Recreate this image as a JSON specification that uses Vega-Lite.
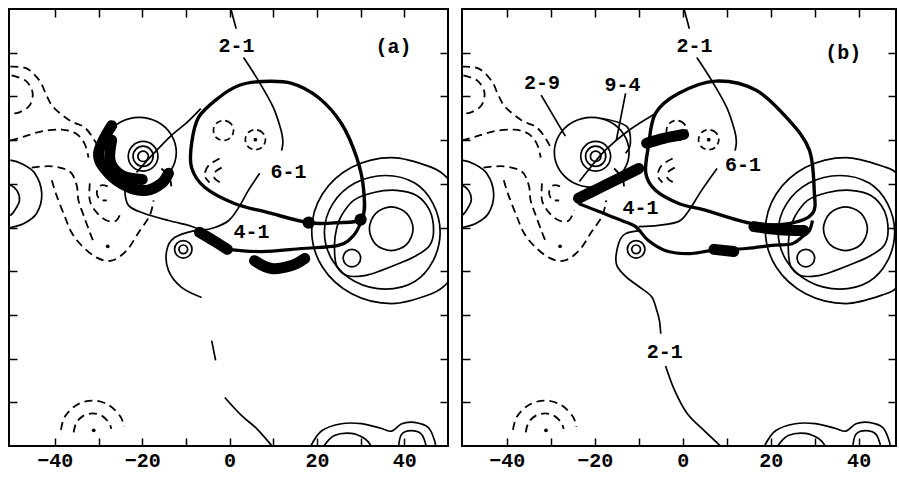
{
"$schema":"https://vega.github.io/schema/vega-lite/v6.json",
"padding":{"left":7,"top":7,"right":0,"bottom":0},
"background":"white",
"config":{"view":{"stroke":"black","strokeWidth":2},"concat":{"spacing":10}},
"datasets":{"d":[
{"p":"ab","k":"line","g":"top21","i":0,"x":0.3,"y":50},{"p":"ab","k":"line","g":"top21","i":1,"x":1.5,"y":45.5},
{"p":"ab","k":"line","g":"lead21","i":0,"x":3.2,"y":38.9},{"p":"ab","k":"line","g":"lead21","i":1,"x":6.6,"y":33.6},{"p":"ab","k":"line","g":"lead21","i":2,"x":10.0,"y":27.5},{"p":"ab","k":"line","g":"lead21","i":3,"x":11.8,"y":22.2},{"p":"ab","k":"line","g":"lead21","i":4,"x":12.2,"y":19.6},{"p":"ab","k":"line","g":"lead21","i":5,"x":11.9,"y":17.6},
{"p":"ab","k":"line","g":"bumpO","i":0,"x":-50.2,"y":15.4},{"p":"ab","k":"line","g":"bumpO","i":1,"x":-47.6,"y":14.6},{"p":"ab","k":"line","g":"bumpO","i":2,"x":-44.6,"y":12.4},{"p":"ab","k":"line","g":"bumpO","i":3,"x":-43.0,"y":7.8},{"p":"ab","k":"line","g":"bumpO","i":4,"x":-44.2,"y":3.2},{"p":"ab","k":"line","g":"bumpO","i":5,"x":-47.1,"y":0.9},{"p":"ab","k":"line","g":"bumpO","i":6,"x":-50.2,"y":0},
{"p":"ab","k":"line","g":"bumpI","i":0,"x":-50.2,"y":9.7},{"p":"ab","k":"line","g":"bumpI","i":1,"x":-48.7,"y":8.5},{"p":"ab","k":"line","g":"bumpI","i":2,"x":-48.1,"y":6.2},{"p":"ab","k":"line","g":"bumpI","i":3,"x":-49.2,"y":3.9},{"p":"ab","k":"line","g":"bumpI","i":4,"x":-50.2,"y":2.7},
{"p":"a","k":"line","g":"R1a","i":0,"x":50,"y":11.15},{"p":"a","k":"line","g":"R1a","i":1,"x":46.25,"y":13.76},{"p":"a","k":"line","g":"R1a","i":2,"x":37.1,"y":16.0},{"p":"a","k":"line","g":"R1a","i":3,"x":27.95,"y":13.76},{"p":"a","k":"line","g":"R1a","i":4,"x":21.25,"y":7.65},{"p":"a","k":"line","g":"R1a","i":5,"x":18.8,"y":-0.7},{"p":"a","k":"line","g":"R1a","i":6,"x":21.25,"y":-9.05},{"p":"a","k":"line","g":"R1a","i":7,"x":27.95,"y":-15.16},{"p":"a","k":"line","g":"R1a","i":8,"x":37.1,"y":-17.4},{"p":"a","k":"line","g":"R1a","i":9,"x":46.25,"y":-15.16},{"p":"a","k":"line","g":"R1a","i":10,"x":50,"y":-12.55},
{"p":"b","k":"line","g":"R1b","i":0,"x":48.5,"y":12.37},{"p":"b","k":"line","g":"R1b","i":1,"x":46.25,"y":13.76},{"p":"b","k":"line","g":"R1b","i":2,"x":37.1,"y":16.0},{"p":"b","k":"line","g":"R1b","i":3,"x":27.95,"y":13.76},{"p":"b","k":"line","g":"R1b","i":4,"x":21.25,"y":7.65},{"p":"b","k":"line","g":"R1b","i":5,"x":18.8,"y":-0.7},{"p":"b","k":"line","g":"R1b","i":6,"x":21.25,"y":-9.05},{"p":"b","k":"line","g":"R1b","i":7,"x":27.95,"y":-15.16},{"p":"b","k":"line","g":"R1b","i":8,"x":37.1,"y":-17.4},{"p":"b","k":"line","g":"R1b","i":9,"x":46.25,"y":-15.16},{"p":"b","k":"line","g":"R1b","i":10,"x":48.5,"y":-13.77},
{"p":"ab","k":"ring","g":"R2","i":0,"x":48.2,"y":-1.1},{"p":"ab","k":"ring","g":"R2","i":1,"x":46.6,"y":5.4},{"p":"ab","k":"ring","g":"R2","i":2,"x":42.4,"y":10.16},{"p":"ab","k":"ring","g":"R2","i":3,"x":35.7,"y":11.9},{"p":"ab","k":"ring","g":"R2","i":4,"x":28.7,"y":10.16},{"p":"ab","k":"ring","g":"R2","i":5,"x":23.6,"y":5.4},{"p":"ab","k":"ring","g":"R2","i":6,"x":21.7,"y":-1.1},{"p":"ab","k":"ring","g":"R2","i":7,"x":23.6,"y":-7.6},{"p":"ab","k":"ring","g":"R2","i":8,"x":28.7,"y":-12.36},{"p":"ab","k":"ring","g":"R2","i":9,"x":35.7,"y":-14.1},{"p":"ab","k":"ring","g":"R2","i":10,"x":42.4,"y":-12.36},{"p":"ab","k":"ring","g":"R2","i":11,"x":46.6,"y":-7.6},
{"p":"ab","k":"ring","g":"P","i":0,"x":25.6,"y":2.7},{"p":"ab","k":"ring","g":"P","i":1,"x":28.4,"y":6.2},{"p":"ab","k":"ring","g":"P","i":2,"x":33.0,"y":8.0},{"p":"ab","k":"ring","g":"P","i":3,"x":38.2,"y":8.5},{"p":"ab","k":"ring","g":"P","i":4,"x":42.8,"y":7.3},{"p":"ab","k":"ring","g":"P","i":5,"x":45.8,"y":3.9},{"p":"ab","k":"ring","g":"P","i":6,"x":46.7,"y":-0.7},{"p":"ab","k":"ring","g":"P","i":7,"x":45.8,"y":-4.1},{"p":"ab","k":"ring","g":"P","i":8,"x":42.8,"y":-6.4},{"p":"ab","k":"ring","g":"P","i":9,"x":38.9,"y":-8.2},{"p":"ab","k":"ring","g":"P","i":10,"x":34.8,"y":-9.8},{"p":"ab","k":"ring","g":"P","i":11,"x":30.9,"y":-11.0},{"p":"ab","k":"ring","g":"P","i":12,"x":26.8,"y":-11.0},{"p":"ab","k":"ring","g":"P","i":13,"x":24.5,"y":-8.7},{"p":"ab","k":"ring","g":"P","i":14,"x":24.0,"y":-4.1},{"p":"ab","k":"ring","g":"P","i":15,"x":24.5,"y":-0.2},
{"p":"ab","k":"ring","g":"C1","i":0,"x":42,"y":-0.3},{"p":"ab","k":"ring","g":"C1","i":1,"x":40.54,"y":3.24},{"p":"ab","k":"ring","g":"C1","i":2,"x":37,"y":4.7},{"p":"ab","k":"ring","g":"C1","i":3,"x":33.46,"y":3.24},{"p":"ab","k":"ring","g":"C1","i":4,"x":32,"y":-0.3},{"p":"ab","k":"ring","g":"C1","i":5,"x":33.46,"y":-3.84},{"p":"ab","k":"ring","g":"C1","i":6,"x":37,"y":-5.3},{"p":"ab","k":"ring","g":"C1","i":7,"x":40.54,"y":-3.84},
{"p":"ab","k":"ring","g":"C2","i":0,"x":30,"y":-7},{"p":"ab","k":"ring","g":"C2","i":1,"x":29.41,"y":-5.59},{"p":"ab","k":"ring","g":"C2","i":2,"x":28,"y":-5},{"p":"ab","k":"ring","g":"C2","i":3,"x":26.59,"y":-5.59},{"p":"ab","k":"ring","g":"C2","i":4,"x":26,"y":-7},{"p":"ab","k":"ring","g":"C2","i":5,"x":26.59,"y":-8.41},{"p":"ab","k":"ring","g":"C2","i":6,"x":28,"y":-9},{"p":"ab","k":"ring","g":"C2","i":7,"x":29.41,"y":-8.41},
{"p":"ab","k":"ring","g":"dc1","i":0,"x":-8.6,"y":-5},{"p":"ab","k":"ring","g":"dc1","i":1,"x":-9.19,"y":-3.59},{"p":"ab","k":"ring","g":"dc1","i":2,"x":-10.6,"y":-3},{"p":"ab","k":"ring","g":"dc1","i":3,"x":-12.01,"y":-3.59},{"p":"ab","k":"ring","g":"dc1","i":4,"x":-12.6,"y":-5},{"p":"ab","k":"ring","g":"dc1","i":5,"x":-12.01,"y":-6.41},{"p":"ab","k":"ring","g":"dc1","i":6,"x":-10.6,"y":-7},{"p":"ab","k":"ring","g":"dc1","i":7,"x":-9.19,"y":-6.41},
{"p":"ab","k":"ring","g":"dc2","i":0,"x":-9.6,"y":-5},{"p":"ab","k":"ring","g":"dc2","i":1,"x":-9.89,"y":-4.29},{"p":"ab","k":"ring","g":"dc2","i":2,"x":-10.6,"y":-4},{"p":"ab","k":"ring","g":"dc2","i":3,"x":-11.31,"y":-4.29},{"p":"ab","k":"ring","g":"dc2","i":4,"x":-11.6,"y":-5},{"p":"ab","k":"ring","g":"dc2","i":5,"x":-11.31,"y":-5.71},{"p":"ab","k":"ring","g":"dc2","i":6,"x":-10.6,"y":-6},{"p":"ab","k":"ring","g":"dc2","i":7,"x":-9.89,"y":-5.71},
{"p":"ab","k":"ring","g":"thin","i":0,"x":-12.2,"y":17.2},{"p":"ab","k":"ring","g":"thin","i":1,"x":-13.34,"y":21.2},{"p":"ab","k":"ring","g":"thin","i":2,"x":-16.45,"y":24.13},{"p":"ab","k":"ring","g":"thin","i":3,"x":-20.7,"y":25.2},{"p":"ab","k":"ring","g":"thin","i":4,"x":-24.95,"y":24.13},{"p":"ab","k":"ring","g":"thin","i":5,"x":-28.06,"y":21.2},{"p":"ab","k":"ring","g":"thin","i":6,"x":-29.2,"y":17.2},{"p":"ab","k":"ring","g":"thin","i":7,"x":-28.06,"y":13.2},{"p":"ab","k":"ring","g":"thin","i":8,"x":-24.95,"y":10.27},{"p":"ab","k":"ring","g":"thin","i":9,"x":-20.7,"y":9.2},{"p":"ab","k":"ring","g":"thin","i":10,"x":-16.45,"y":10.27},{"p":"ab","k":"ring","g":"thin","i":11,"x":-13.34,"y":13.2},
{"p":"ab","k":"ring","g":"cc1","i":0,"x":-18.6,"y":16.3},{"p":"ab","k":"ring","g":"cc1","i":1,"x":-18.95,"y":17.15},{"p":"ab","k":"ring","g":"cc1","i":2,"x":-19.8,"y":17.5},{"p":"ab","k":"ring","g":"cc1","i":3,"x":-20.65,"y":17.15},{"p":"ab","k":"ring","g":"cc1","i":4,"x":-21.0,"y":16.3},{"p":"ab","k":"ring","g":"cc1","i":5,"x":-20.65,"y":15.45},{"p":"ab","k":"ring","g":"cc1","i":6,"x":-19.8,"y":15.1},{"p":"ab","k":"ring","g":"cc1","i":7,"x":-18.95,"y":15.45},
{"p":"ab","k":"ring","g":"cc2","i":0,"x":-17.5,"y":16.3},{"p":"ab","k":"ring","g":"cc2","i":1,"x":-18.17,"y":17.93},{"p":"ab","k":"ring","g":"cc2","i":2,"x":-19.8,"y":18.6},{"p":"ab","k":"ring","g":"cc2","i":3,"x":-21.43,"y":17.93},{"p":"ab","k":"ring","g":"cc2","i":4,"x":-22.1,"y":16.3},{"p":"ab","k":"ring","g":"cc2","i":5,"x":-21.43,"y":14.67},{"p":"ab","k":"ring","g":"cc2","i":6,"x":-19.8,"y":14.0},{"p":"ab","k":"ring","g":"cc2","i":7,"x":-18.17,"y":14.67},
{"p":"ab","k":"ring","g":"cc3","i":0,"x":-16.4,"y":16.3},{"p":"ab","k":"ring","g":"cc3","i":1,"x":-17.4,"y":18.7},{"p":"ab","k":"ring","g":"cc3","i":2,"x":-19.8,"y":19.7},{"p":"ab","k":"ring","g":"cc3","i":3,"x":-22.2,"y":18.7},{"p":"ab","k":"ring","g":"cc3","i":4,"x":-23.2,"y":16.3},{"p":"ab","k":"ring","g":"cc3","i":5,"x":-22.2,"y":13.9},{"p":"ab","k":"ring","g":"cc3","i":6,"x":-19.8,"y":12.9},{"p":"ab","k":"ring","g":"cc3","i":7,"x":-17.4,"y":13.9},
{"p":"ab","k":"line","g":"br1","i":0,"x":18.6,"y":-50},{"p":"ab","k":"line","g":"br1","i":1,"x":21.1,"y":-46.5},{"p":"ab","k":"line","g":"br1","i":2,"x":25.6,"y":-44.9},{"p":"ab","k":"line","g":"br1","i":3,"x":30.2,"y":-44.9},{"p":"ab","k":"line","g":"br1","i":4,"x":34.8,"y":-46.0},{"p":"ab","k":"line","g":"br1","i":5,"x":37.1,"y":-46.6},{"p":"ab","k":"line","g":"br1","i":6,"x":39.4,"y":-44.9},{"p":"ab","k":"line","g":"br1","i":7,"x":42.3,"y":-44.6},{"p":"ab","k":"line","g":"br1","i":8,"x":45.5,"y":-45.8},{"p":"ab","k":"line","g":"br1","i":9,"x":46.9,"y":-48.7},{"p":"ab","k":"line","g":"br1","i":10,"x":47.1,"y":-50},
{"p":"ab","k":"line","g":"br2","i":0,"x":21.6,"y":-50},{"p":"ab","k":"line","g":"br2","i":1,"x":24.0,"y":-47.6},{"p":"ab","k":"line","g":"br2","i":2,"x":27.9,"y":-47.1},{"p":"ab","k":"line","g":"br2","i":3,"x":30.9,"y":-48.3},{"p":"ab","k":"line","g":"br2","i":4,"x":32.4,"y":-50},
{"p":"ab","k":"line","g":"br3","i":0,"x":38.7,"y":-50},{"p":"ab","k":"line","g":"br3","i":1,"x":39.4,"y":-47.3},{"p":"ab","k":"line","g":"br3","i":2,"x":41.6,"y":-46.5},{"p":"ab","k":"line","g":"br3","i":3,"x":43.9,"y":-47.3},{"p":"ab","k":"line","g":"br3","i":4,"x":45.0,"y":-50},
{"p":"ab","k":"neg","g":"D1","i":0,"x":-50.2,"y":36.8},{"p":"ab","k":"neg","g":"D1","i":1,"x":-46.5,"y":36.4},{"p":"ab","k":"neg","g":"D1","i":2,"x":-43.5,"y":33.6},{"p":"ab","k":"neg","g":"D1","i":3,"x":-41.9,"y":30.2},{"p":"ab","k":"neg","g":"D1","i":4,"x":-40.3,"y":27.5},{"p":"ab","k":"neg","g":"D1","i":5,"x":-36.6,"y":24.5},{"p":"ab","k":"neg","g":"D1","i":6,"x":-33.2,"y":22.9},{"p":"ab","k":"neg","g":"D1","i":7,"x":-30.9,"y":19.9},{"p":"ab","k":"neg","g":"D1","i":8,"x":-29.7,"y":17.6},
{"p":"ab","k":"neg","g":"D2","i":0,"x":-49.9,"y":34.8},{"p":"ab","k":"neg","g":"D2","i":1,"x":-46.7,"y":33.6},{"p":"ab","k":"neg","g":"D2","i":2,"x":-45.1,"y":30.9},{"p":"ab","k":"neg","g":"D2","i":3,"x":-45.8,"y":27.9},{"p":"ab","k":"neg","g":"D2","i":4,"x":-48.3,"y":26.3},{"p":"ab","k":"neg","g":"D2","i":5,"x":-50.2,"y":26.1},
{"p":"ab","k":"neg","g":"D3","i":0,"x":-50.2,"y":19.9},{"p":"ab","k":"neg","g":"D3","i":1,"x":-47.1,"y":20.8},{"p":"ab","k":"neg","g":"D3","i":2,"x":-43.0,"y":22.0},{"p":"ab","k":"neg","g":"D3","i":3,"x":-38.4,"y":22.4},{"p":"ab","k":"neg","g":"D3","i":4,"x":-35.2,"y":21.5},{"p":"ab","k":"neg","g":"D3","i":5,"x":-33.2,"y":19.2},{"p":"ab","k":"neg","g":"D3","i":6,"x":-32.3,"y":16.0},
{"p":"ab","k":"neg","g":"D4","i":0,"x":-45.3,"y":13.7},{"p":"ab","k":"neg","g":"D4","i":1,"x":-40.7,"y":14.0},{"p":"ab","k":"neg","g":"D4","i":2,"x":-36.6,"y":12.8},{"p":"ab","k":"neg","g":"D4","i":3,"x":-35.0,"y":9.6},{"p":"ab","k":"neg","g":"D4","i":4,"x":-34.6,"y":6.2},{"p":"ab","k":"neg","g":"D4","i":5,"x":-33.4,"y":2.7},{"p":"ab","k":"neg","g":"D4","i":6,"x":-32.0,"y":-1.1},{"p":"ab","k":"neg","g":"D4","i":7,"x":-31.1,"y":-3.4},
{"p":"ab","k":"neg","g":"D5","i":0,"x":-40.7,"y":10.8},{"p":"ab","k":"neg","g":"D5","i":1,"x":-39.6,"y":7.3},{"p":"ab","k":"neg","g":"D5","i":2,"x":-37.8,"y":2.7},{"p":"ab","k":"neg","g":"D5","i":3,"x":-36.2,"y":-1.1},{"p":"ab","k":"neg","g":"D5","i":4,"x":-33.9,"y":-4.1},{"p":"ab","k":"neg","g":"D5","i":5,"x":-30.4,"y":-6.9},{"p":"ab","k":"neg","g":"D5","i":6,"x":-27.0,"y":-7.6},{"p":"ab","k":"neg","g":"D5","i":7,"x":-23.6,"y":-5.3},{"p":"ab","k":"neg","g":"D5","i":8,"x":-20.8,"y":-1.1},{"p":"ab","k":"neg","g":"D5","i":9,"x":-18.3,"y":2.7},{"p":"ab","k":"neg","g":"D5","i":10,"x":-17.4,"y":6.2},
{"p":"ab","k":"neg","g":"D6","i":0,"x":-32.0,"y":10.1},{"p":"ab","k":"neg","g":"D6","i":1,"x":-32.0,"y":6.2},{"p":"ab","k":"neg","g":"D6","i":2,"x":-30.4,"y":3.4},{"p":"ab","k":"neg","g":"D6","i":3,"x":-28.1,"y":1.6},{"p":"ab","k":"neg","g":"D6","i":4,"x":-25.9,"y":1.6},{"p":"ab","k":"neg","g":"D6","i":5,"x":-24.7,"y":3.9},
{"p":"ab","k":"neg","g":"D7","i":0,"x":-27.9,"y":9.4},{"p":"ab","k":"neg","g":"D7","i":1,"x":-29.5,"y":9.6},{"p":"ab","k":"neg","g":"D7","i":2,"x":-30.4,"y":8.0},{"p":"ab","k":"neg","g":"D7","i":3,"x":-29.7,"y":6.4},{"p":"ab","k":"neg","g":"D7","i":4,"x":-28.1,"y":6.2},
{"p":"ab","k":"neg","g":"D8","i":0,"x":-15.6,"y":13.5},{"p":"ab","k":"neg","g":"D8","i":1,"x":-13.7,"y":11.2},{"p":"ab","k":"neg","g":"D8","i":2,"x":-13.3,"y":8.5},
{"p":"ab","k":"neg","g":"bl1","i":0,"x":-38.6,"y":-46.3},{"p":"ab","k":"neg","g":"bl1","i":1,"x":-37.7,"y":-43.25},{"p":"ab","k":"neg","g":"bl1","i":2,"x":-35.0,"y":-40.6},{"p":"ab","k":"neg","g":"bl1","i":3,"x":-31.35,"y":-39.6},{"p":"ab","k":"neg","g":"bl1","i":4,"x":-27.7,"y":-40.6},{"p":"ab","k":"neg","g":"bl1","i":5,"x":-25.0,"y":-43.25},{"p":"ab","k":"neg","g":"bl1","i":6,"x":-24.2,"y":-45.6},
{"p":"ab","k":"neg","g":"bl2","i":0,"x":-35.7,"y":-46.9},{"p":"ab","k":"neg","g":"bl2","i":1,"x":-35.1,"y":-44.7},{"p":"ab","k":"neg","g":"bl2","i":2,"x":-33.5,"y":-43.1},{"p":"ab","k":"neg","g":"bl2","i":3,"x":-31.35,"y":-42.55},{"p":"ab","k":"neg","g":"bl2","i":4,"x":-29.2,"y":-43.1},{"p":"ab","k":"neg","g":"bl2","i":5,"x":-27.6,"y":-44.7},{"p":"ab","k":"neg","g":"bl2","i":6,"x":-27.1,"y":-46.1},
{"p":"ab","k":"neg","g":"il1","i":0,"x":-2.3,"y":15.8},{"p":"ab","k":"neg","g":"il1","i":1,"x":-4.8,"y":14.2},{"p":"ab","k":"neg","g":"il1","i":2,"x":-5.7,"y":11.9},{"p":"ab","k":"neg","g":"il1","i":3,"x":-4.6,"y":10.3},
{"p":"ab","k":"neg","g":"il2","i":0,"x":-1.8,"y":13.7},{"p":"ab","k":"neg","g":"il2","i":1,"x":-3.4,"y":12.6},{"p":"ab","k":"neg","g":"il2","i":2,"x":-3.4,"y":11.2},{"p":"ab","k":"neg","g":"il2","i":3,"x":-2.1,"y":10.3},
{"p":"ab","k":"negring","g":"ic1","i":0,"x":0.9,"y":22.2},{"p":"ab","k":"negring","g":"ic1","i":1,"x":0.23,"y":23.83},{"p":"ab","k":"negring","g":"ic1","i":2,"x":-1.4,"y":24.5},{"p":"ab","k":"negring","g":"ic1","i":3,"x":-3.03,"y":23.83},{"p":"ab","k":"negring","g":"ic1","i":4,"x":-3.7,"y":22.2},{"p":"ab","k":"negring","g":"ic1","i":5,"x":-3.03,"y":20.57},{"p":"ab","k":"negring","g":"ic1","i":6,"x":-1.4,"y":19.9},{"p":"ab","k":"negring","g":"ic1","i":7,"x":0.23,"y":20.57},
{"p":"ab","k":"negring","g":"ic2","i":0,"x":8.2,"y":20.1},{"p":"ab","k":"negring","g":"ic2","i":1,"x":7.53,"y":21.73},{"p":"ab","k":"negring","g":"ic2","i":2,"x":5.9,"y":22.4},{"p":"ab","k":"negring","g":"ic2","i":3,"x":4.27,"y":21.73},{"p":"ab","k":"negring","g":"ic2","i":4,"x":3.6,"y":20.1},{"p":"ab","k":"negring","g":"ic2","i":5,"x":4.27,"y":18.47},{"p":"ab","k":"negring","g":"ic2","i":6,"x":5.9,"y":17.8},{"p":"ab","k":"negring","g":"ic2","i":7,"x":7.53,"y":18.47},
{"p":"ab","k":"dot","g":"m1","x":-27.9,"y":-4.3},{"p":"ab","k":"dot","g":"m2","x":-31.1,"y":-46.4},{"p":"ab","k":"dot","g":"m3","x":5.9,"y":20.1},
{"p":"a","k":"bndring","g":"loopA","i":0,"x":30.2,"y":2.1},{"p":"a","k":"bndring","g":"loopA","i":1,"x":30.7,"y":8.5},{"p":"a","k":"bndring","g":"loopA","i":2,"x":29.1,"y":16.0},{"p":"a","k":"bndring","g":"loopA","i":3,"x":25.6,"y":23.8},{"p":"a","k":"bndring","g":"loopA","i":4,"x":20.4,"y":29.7},{"p":"a","k":"bndring","g":"loopA","i":5,"x":14.2,"y":33.0},{"p":"a","k":"bndring","g":"loopA","i":6,"x":7.3,"y":33.4},{"p":"a","k":"bndring","g":"loopA","i":7,"x":2.1,"y":32.5},{"p":"a","k":"bndring","g":"loopA","i":8,"x":-2.5,"y":29.7},{"p":"a","k":"bndring","g":"loopA","i":9,"x":-7.1,"y":25.2},{"p":"a","k":"bndring","g":"loopA","i":10,"x":-8.7,"y":19.2},{"p":"a","k":"bndring","g":"loopA","i":11,"x":-8.7,"y":13.7},{"p":"a","k":"bndring","g":"loopA","i":12,"x":-5.7,"y":9.2},{"p":"a","k":"bndring","g":"loopA","i":13,"x":1.1,"y":5.5},{"p":"a","k":"bndring","g":"loopA","i":14,"x":8.9,"y":3.4},{"p":"a","k":"bndring","g":"loopA","i":15,"x":18.1,"y":1.1},{"p":"a","k":"bndring","g":"loopA","i":16,"x":24.5,"y":1.1},
{"p":"a","k":"line","g":"connA","i":0,"x":-6.6,"y":27.2},{"p":"a","k":"line","g":"connA","i":1,"x":-9.8,"y":24.0},{"p":"a","k":"line","g":"connA","i":2,"x":-13.3,"y":21.1},{"p":"a","k":"line","g":"connA","i":3,"x":-17.8,"y":16.5},{"p":"a","k":"line","g":"connA","i":4,"x":-21.3,"y":12.6},
{"p":"a","k":"bnd","g":"lowA","i":0,"x":-0.5,"y":-5.0},{"p":"a","k":"bnd","g":"lowA","i":1,"x":7.3,"y":-5.5},{"p":"a","k":"bnd","g":"lowA","i":2,"x":16.5,"y":-4.8},{"p":"a","k":"bnd","g":"lowA","i":3,"x":24.9,"y":-4.1},{"p":"a","k":"bnd","g":"lowA","i":4,"x":28.4,"y":-1.8},{"p":"a","k":"bnd","g":"lowA","i":5,"x":30.2,"y":1.6},
{"p":"a","k":"blob","g":"bA1","i":0,"x":-6.9,"y":-1.1},{"p":"a","k":"blob","g":"bA1","i":1,"x":-3.7,"y":-3.0},{"p":"a","k":"blob","g":"bA1","i":2,"x":-0.5,"y":-5.0},
{"p":"a","k":"blob","g":"bA2","i":0,"x":5.7,"y":-7.6},{"p":"a","k":"blob","g":"bA2","i":1,"x":9.6,"y":-9.4},{"p":"a","k":"blob","g":"bA2","i":2,"x":14.2,"y":-8.7},{"p":"a","k":"blob","g":"bA2","i":3,"x":17.2,"y":-7.1},
{"p":"a","k":"blob","g":"bA3","i":0,"x":-27.0,"y":23.3},{"p":"a","k":"blob","g":"bA3","i":1,"x":-30.0,"y":16.9},{"p":"a","k":"blob","g":"bA3","i":2,"x":-27.7,"y":12.4},{"p":"a","k":"blob","g":"bA3","i":3,"x":-23.1,"y":9.2},{"p":"a","k":"blob","g":"bA3","i":4,"x":-19.0,"y":8.5},{"p":"a","k":"blob","g":"bA3","i":5,"x":-15.6,"y":10.1},{"p":"a","k":"blob","g":"bA3","i":6,"x":-14.0,"y":12.4},
{"p":"a","k":"blob","g":"bA4","i":0,"x":-27.0,"y":20.0},{"p":"a","k":"blob","g":"bA4","i":1,"x":-27.3,"y":15.0},{"p":"a","k":"blob","g":"bA4","i":2,"x":-24.5,"y":11.8},{"p":"a","k":"blob","g":"bA4","i":3,"x":-20.0,"y":11.0},
{"p":"a","k":"spot","g":"s1","x":18.1,"y":1.1},{"p":"a","k":"spot","g":"s2","x":30.0,"y":1.8},
{"p":"a","k":"line","g":"l61A","i":0,"x":-24.0,"y":8.5},{"p":"a","k":"line","g":"l61A","i":1,"x":-23.1,"y":5.0},{"p":"a","k":"line","g":"l61A","i":2,"x":-19.5,"y":3.2},{"p":"a","k":"line","g":"l61A","i":3,"x":-14.0,"y":1.6},{"p":"a","k":"line","g":"l61A","i":4,"x":-9.4,"y":0.5},{"p":"a","k":"line","g":"l61A","i":5,"x":-6.4,"y":-0.5},{"p":"a","k":"line","g":"l61A","i":6,"x":-3.4,"y":0},{"p":"a","k":"line","g":"l61A","i":7,"x":-0.2,"y":1.6},{"p":"a","k":"line","g":"l61A","i":8,"x":2.1,"y":4.6},{"p":"a","k":"line","g":"l61A","i":9,"x":4.3,"y":8.5},{"p":"a","k":"line","g":"l61A","i":10,"x":6.9,"y":12.4},
{"p":"a","k":"line","g":"e2A","i":0,"x":-8.0,"y":-0.7},{"p":"a","k":"line","g":"e2A","i":1,"x":-12.6,"y":-2.3},{"p":"a","k":"line","g":"e2A","i":2,"x":-14.4,"y":-5.3},{"p":"a","k":"line","g":"e2A","i":3,"x":-14.0,"y":-9.8},{"p":"a","k":"line","g":"e2A","i":4,"x":-11.0,"y":-13.7},{"p":"a","k":"line","g":"e2A","i":5,"x":-6.4,"y":-16.0},
{"p":"a","k":"line","g":"e3A","i":0,"x":-4.1,"y":-25.9},{"p":"a","k":"line","g":"e3A","i":1,"x":-3.2,"y":-30.4},
{"p":"a","k":"line","g":"e4A","i":0,"x":-1.1,"y":-38.9},{"p":"a","k":"line","g":"e4A","i":1,"x":2.7,"y":-43.0},{"p":"a","k":"line","g":"e4A","i":2,"x":6.2,"y":-46.0},{"p":"a","k":"line","g":"e4A","i":3,"x":9.2,"y":-49.4},{"p":"a","k":"line","g":"e4A","i":4,"x":9.6,"y":-50},
{"p":"a","k":"label","t":"2-1","x":1.6,"y":41.6},{"p":"a","k":"label","t":"6-1","x":13.5,"y":12.6},{"p":"a","k":"label","t":"4-1","x":5.0,"y":-1.1},{"p":"a","k":"label","t":"(a)","x":37.5,"y":41.2},
{"p":"b","k":"bndring","g":"loopB","i":0,"x":29.5,"y":3.2},{"p":"b","k":"bndring","g":"loopB","i":1,"x":29.9,"y":8.5},{"p":"b","k":"bndring","g":"loopB","i":2,"x":28.8,"y":17.7},{"p":"b","k":"bndring","g":"loopB","i":3,"x":24.2,"y":24.5},{"p":"b","k":"bndring","g":"loopB","i":4,"x":16.7,"y":31.4},{"p":"b","k":"bndring","g":"loopB","i":5,"x":7.5,"y":33.5},{"p":"b","k":"bndring","g":"loopB","i":6,"x":-0.9,"y":30.7},{"p":"b","k":"bndring","g":"loopB","i":7,"x":-6.2,"y":26.1},{"p":"b","k":"bndring","g":"loopB","i":8,"x":-7.8,"y":18.6},{"p":"b","k":"bndring","g":"loopB","i":9,"x":-8.4,"y":12.4},{"p":"b","k":"bndring","g":"loopB","i":10,"x":-6.2,"y":8.5},{"p":"b","k":"bndring","g":"loopB","i":11,"x":-0.9,"y":5.5},{"p":"b","k":"bndring","g":"loopB","i":12,"x":5.3,"y":3.9},{"p":"b","k":"bndring","g":"loopB","i":13,"x":15.8,"y":0.9},{"p":"b","k":"bndring","g":"loopB","i":14,"x":24.2,"y":0.9},
{"p":"b","k":"line","g":"connB","i":0,"x":-6.2,"y":26.1},{"p":"b","k":"line","g":"connB","i":1,"x":-12.3,"y":22.2},{"p":"b","k":"line","g":"connB","i":2,"x":-17.6,"y":17.7},{"p":"b","k":"line","g":"connB","i":3,"x":-21.5,"y":13.1},{"p":"b","k":"line","g":"connB","i":4,"x":-23.5,"y":10.5},
{"p":"b","k":"bnd","g":"lowB","i":0,"x":-23.7,"y":5.5},{"p":"b","k":"bnd","g":"lowB","i":1,"x":-19.2,"y":3.7},{"p":"b","k":"bnd","g":"lowB","i":2,"x":-13.9,"y":1.6},{"p":"b","k":"bnd","g":"lowB","i":3,"x":-10.7,"y":0.2},{"p":"b","k":"bnd","g":"lowB","i":4,"x":-7.8,"y":-3.0},{"p":"b","k":"bnd","g":"lowB","i":5,"x":-3.9,"y":-5.3},{"p":"b","k":"bnd","g":"lowB","i":6,"x":1.4,"y":-6.0},{"p":"b","k":"bnd","g":"lowB","i":7,"x":6.6,"y":-5.3},{"p":"b","k":"bnd","g":"lowB","i":8,"x":14.4,"y":-4.8},{"p":"b","k":"bnd","g":"lowB","i":9,"x":20.3,"y":-4.1},{"p":"b","k":"bnd","g":"lowB","i":10,"x":24.9,"y":-3.7},{"p":"b","k":"bnd","g":"lowB","i":11,"x":27.2,"y":-2.1},{"p":"b","k":"bnd","g":"lowB","i":12,"x":28.8,"y":-0.7},{"p":"b","k":"bnd","g":"lowB","i":13,"x":29.5,"y":1.6},
{"p":"b","k":"blob","g":"bB1","i":0,"x":-23.7,"y":6.7},{"p":"b","k":"blob","g":"bB1","i":1,"x":-19.2,"y":8.9},{"p":"b","k":"blob","g":"bB1","i":2,"x":-14.6,"y":11.2},{"p":"b","k":"blob","g":"bB1","i":3,"x":-10.0,"y":13.5},
{"p":"b","k":"blob","g":"bB2","i":0,"x":-8.2,"y":19.3},{"p":"b","k":"blob","g":"bB2","i":1,"x":-4.3,"y":20.4},{"p":"b","k":"blob","g":"bB2","i":2,"x":0.2,"y":21.3},
{"p":"b","k":"blob","g":"bB3","i":0,"x":16.2,"y":0.2},{"p":"b","k":"blob","g":"bB3","i":1,"x":21.9,"y":-0.5},{"p":"b","k":"blob","g":"bB3","i":2,"x":27.6,"y":-0.7},
{"p":"b","k":"blob","g":"bB4","i":0,"x":7.1,"y":-5.0},{"p":"b","k":"blob","g":"bB4","i":1,"x":11.6,"y":-5.5},
{"p":"b","k":"line","g":"l61B","i":0,"x":7.8,"y":13.5},{"p":"b","k":"line","g":"l61B","i":1,"x":4.3,"y":8.5},{"p":"b","k":"line","g":"l61B","i":2,"x":1.4,"y":3.9},{"p":"b","k":"line","g":"l61B","i":3,"x":-0.9,"y":1.4},{"p":"b","k":"line","g":"l61B","i":4,"x":-5.5,"y":0.5},{"p":"b","k":"line","g":"l61B","i":5,"x":-10.0,"y":0.2},
{"p":"b","k":"line","g":"e2B","i":0,"x":-9.4,"y":-0.7},{"p":"b","k":"line","g":"e2B","i":1,"x":-13.0,"y":-1.4},{"p":"b","k":"line","g":"e2B","i":2,"x":-14.6,"y":-3.7},{"p":"b","k":"line","g":"e2B","i":3,"x":-15.1,"y":-8.3},{"p":"b","k":"line","g":"e2B","i":4,"x":-13.0,"y":-11.2},{"p":"b","k":"line","g":"e2B","i":5,"x":-10.0,"y":-13.5},{"p":"b","k":"line","g":"e2B","i":6,"x":-7.1,"y":-15.8},{"p":"b","k":"line","g":"e2B","i":7,"x":-5.9,"y":-19.0},{"p":"b","k":"line","g":"e2B","i":8,"x":-5.3,"y":-21.3},{"p":"b","k":"line","g":"e2B","i":9,"x":-5.0,"y":-24.3},
{"p":"b","k":"line","g":"e4B","i":0,"x":-3.9,"y":-31.7},{"p":"b","k":"line","g":"e4B","i":1,"x":-1.8,"y":-37.4},{"p":"b","k":"line","g":"e4B","i":2,"x":1.1,"y":-42.7},{"p":"b","k":"line","g":"e4B","i":3,"x":5.0,"y":-46.6},{"p":"b","k":"line","g":"e4B","i":4,"x":8.6,"y":-50},
{"p":"b","k":"line","g":"ld29","i":0,"x":-32.2,"y":30.3},{"p":"b","k":"line","g":"ld29","i":1,"x":-26.7,"y":20.9},
{"p":"b","k":"line","g":"ld94","i":0,"x":-13.0,"y":30.7},{"p":"b","k":"line","g":"ld94","i":1,"x":-15.1,"y":20.0},
{"p":"b","k":"line","g":"arc94","i":0,"x":-18.5,"y":25.0},{"p":"b","k":"line","g":"arc94","i":1,"x":-12.8,"y":23.2},{"p":"b","k":"line","g":"arc94","i":2,"x":-11.9,"y":19.3},{"p":"b","k":"line","g":"arc94","i":3,"x":-13.0,"y":17.0},
{"p":"b","k":"label","t":"2-1","x":2.7,"y":41.5},{"p":"b","k":"label","t":"2-9","x":-32.0,"y":33.0},{"p":"b","k":"label","t":"9-4","x":-13.7,"y":32.6},{"p":"b","k":"label","t":"6-1","x":13.7,"y":14.2},{"p":"b","k":"label","t":"4-1","x":-9.6,"y":4.4},{"p":"b","k":"label","t":"2-1","x":-4.1,"y":-28.4},{"p":"b","k":"label","t":"(b)","x":36.5,"y":40.0}
]},
"data":{"name":"d"},
"hconcat":[
{"width":439,"height":437,
 "transform":[{"filter":"datum.p != 'b'"}],
 "encoding":{
  "x":{"field":"x","type":"quantitative","scale":{"domain":[-50.5,50],"nice":false,"zero":false},"axis":null},
  "y":{"field":"y","type":"quantitative","scale":{"domain":[-50,50],"nice":false,"zero":false},"axis":null}},
 "resolve":{"axis":{"x":"independent","y":"independent"}},
 "layer":[
  {"transform":[{"filter":"datum.k=='line'"}],"mark":{"type":"line","interpolate":"cardinal","strokeWidth":1.7,"color":"black","clip":true},
   "encoding":{"detail":{"field":"g","type":"nominal"},"order":{"field":"i","type":"quantitative"},
    "x":{"field":"x","type":"quantitative","axis":{"orient":"bottom","values":[-40,-30,-20,-10,0,10,20,30,40],"labelExpr":"datum.value % 20 == 0 ? datum.label : ''","tickSize":-8,"tickWidth":1.5,"tickColor":"black","labelPadding":12,"labelFont":"Liberation Mono","labelFontSize":20,"labelFontWeight":"bold","labelColor":"black","domain":false,"grid":false,"title":null}},
    "y":{"field":"y","type":"quantitative","axis":{"orient":"left","values":[-40,-30,-20,-10,0,10,20,30,40],"labels":false,"tickSize":-8,"tickWidth":1.5,"tickColor":"black","domain":false,"grid":false,"title":null,"minExtent":0,"maxExtent":0}}}},
  {"transform":[{"filter":"datum.k=='ring'"}],"mark":{"type":"line","interpolate":"cardinal-closed","strokeWidth":1.7,"color":"black","clip":true},"encoding":{"detail":{"field":"g","type":"nominal"},"order":{"field":"i","type":"quantitative"}}},
  {"transform":[{"filter":"datum.k=='neg'"}],"mark":{"type":"line","interpolate":"cardinal","strokeWidth":1.8,"strokeDash":[8,5],"color":"black","clip":true},"encoding":{"detail":{"field":"g","type":"nominal"},"order":{"field":"i","type":"quantitative"}}},
  {"transform":[{"filter":"datum.k=='negring'"}],"mark":{"type":"line","interpolate":"cardinal-closed","strokeWidth":1.7,"strokeDash":[6,4],"color":"black","clip":true},"encoding":{"detail":{"field":"g","type":"nominal"},"order":{"field":"i","type":"quantitative"}}},
  {"transform":[{"filter":"datum.k=='bnd'"}],"mark":{"type":"line","interpolate":"cardinal","strokeWidth":3.2,"color":"black","clip":true},"encoding":{"detail":{"field":"g","type":"nominal"},"order":{"field":"i","type":"quantitative"}}},
  {"transform":[{"filter":"datum.k=='bndring'"}],"mark":{"type":"line","interpolate":"cardinal-closed","strokeWidth":3.4,"color":"black","clip":true},"encoding":{"detail":{"field":"g","type":"nominal"},"order":{"field":"i","type":"quantitative"}}},
  {"transform":[{"filter":"datum.k=='blob'"}],"mark":{"type":"line","interpolate":"cardinal","strokeWidth":11,"strokeCap":"round","color":"black","clip":true},"encoding":{"detail":{"field":"g","type":"nominal"},"order":{"field":"i","type":"quantitative"}}},
  {"transform":[{"filter":"datum.k=='spot'"}],"mark":{"type":"point","shape":"circle","filled":true,"size":150,"color":"black","opacity":1}},
  {"transform":[{"filter":"datum.k=='dot'"}],"mark":{"type":"point","shape":"circle","filled":true,"size":14,"color":"black","opacity":1},
   "encoding":{
    "x":{"field":"x","type":"quantitative","axis":{"orient":"top","values":[-40,-30,-20,-10,0,10,20,30,40],"labels":false,"tickSize":-8,"tickWidth":1.5,"tickColor":"black","domain":false,"grid":false,"title":null,"minExtent":0,"maxExtent":0}},
    "y":{"field":"y","type":"quantitative","axis":{"orient":"right","values":[-40,-30,-20,-10,0,10,20,30,40],"labels":false,"tickSize":-8,"tickWidth":1.5,"tickColor":"black","domain":false,"grid":false,"title":null,"minExtent":0,"maxExtent":0}}}},
  {"transform":[{"filter":"datum.k=='label'"}],"mark":{"type":"text","font":"Liberation Mono","fontSize":20,"fontWeight":"bold","color":"black","align":"center","baseline":"middle"},"encoding":{"text":{"field":"t","type":"nominal"}}}
 ]},
{"width":434,"height":437,
 "transform":[{"filter":"datum.p != 'a'"}],
 "encoding":{
  "x":{"field":"x","type":"quantitative","scale":{"domain":[-50.2,48.5],"nice":false,"zero":false},"axis":null},
  "y":{"field":"y","type":"quantitative","scale":{"domain":[-50,50],"nice":false,"zero":false},"axis":null}},
 "resolve":{"axis":{"x":"independent","y":"independent"}},
 "layer":[
  {"transform":[{"filter":"datum.k=='line'"}],"mark":{"type":"line","interpolate":"cardinal","strokeWidth":1.7,"color":"black","clip":true},
   "encoding":{"detail":{"field":"g","type":"nominal"},"order":{"field":"i","type":"quantitative"},
    "x":{"field":"x","type":"quantitative","axis":{"orient":"bottom","values":[-40,-30,-20,-10,0,10,20,30,40],"labelExpr":"datum.value % 20 == 0 ? datum.label : ''","tickSize":-8,"tickWidth":1.5,"tickColor":"black","labelPadding":12,"labelFont":"Liberation Mono","labelFontSize":20,"labelFontWeight":"bold","labelColor":"black","domain":false,"grid":false,"title":null}},
    "y":{"field":"y","type":"quantitative","axis":{"orient":"left","values":[-40,-30,-20,-10,0,10,20,30,40],"labels":false,"tickSize":-8,"tickWidth":1.5,"tickColor":"black","domain":false,"grid":false,"title":null,"minExtent":0,"maxExtent":0}}}},
  {"transform":[{"filter":"datum.k=='ring'"}],"mark":{"type":"line","interpolate":"cardinal-closed","strokeWidth":1.7,"color":"black","clip":true},"encoding":{"detail":{"field":"g","type":"nominal"},"order":{"field":"i","type":"quantitative"}}},
  {"transform":[{"filter":"datum.k=='neg'"}],"mark":{"type":"line","interpolate":"cardinal","strokeWidth":1.8,"strokeDash":[8,5],"color":"black","clip":true},"encoding":{"detail":{"field":"g","type":"nominal"},"order":{"field":"i","type":"quantitative"}}},
  {"transform":[{"filter":"datum.k=='negring'"}],"mark":{"type":"line","interpolate":"cardinal-closed","strokeWidth":1.7,"strokeDash":[6,4],"color":"black","clip":true},"encoding":{"detail":{"field":"g","type":"nominal"},"order":{"field":"i","type":"quantitative"}}},
  {"transform":[{"filter":"datum.k=='bnd'"}],"mark":{"type":"line","interpolate":"cardinal","strokeWidth":3.2,"color":"black","clip":true},"encoding":{"detail":{"field":"g","type":"nominal"},"order":{"field":"i","type":"quantitative"}}},
  {"transform":[{"filter":"datum.k=='bndring'"}],"mark":{"type":"line","interpolate":"cardinal-closed","strokeWidth":3.4,"color":"black","clip":true},"encoding":{"detail":{"field":"g","type":"nominal"},"order":{"field":"i","type":"quantitative"}}},
  {"transform":[{"filter":"datum.k=='blob'"}],"mark":{"type":"line","interpolate":"cardinal","strokeWidth":11,"strokeCap":"round","color":"black","clip":true},"encoding":{"detail":{"field":"g","type":"nominal"},"order":{"field":"i","type":"quantitative"}}},
  {"transform":[{"filter":"datum.k=='dot'"}],"mark":{"type":"point","shape":"circle","filled":true,"size":14,"color":"black","opacity":1},
   "encoding":{
    "x":{"field":"x","type":"quantitative","axis":{"orient":"top","values":[-40,-30,-20,-10,0,10,20,30,40],"labels":false,"tickSize":-8,"tickWidth":1.5,"tickColor":"black","domain":false,"grid":false,"title":null,"minExtent":0,"maxExtent":0}},
    "y":{"field":"y","type":"quantitative","axis":{"orient":"right","values":[-40,-30,-20,-10,0,10,20,30,40],"labels":false,"tickSize":-8,"tickWidth":1.5,"tickColor":"black","domain":false,"grid":false,"title":null,"minExtent":0,"maxExtent":0}}}},
  {"transform":[{"filter":"datum.k=='label'"}],"mark":{"type":"text","font":"Liberation Mono","fontSize":20,"fontWeight":"bold","color":"black","align":"center","baseline":"middle"},"encoding":{"text":{"field":"t","type":"nominal"}}}
 ]}
]
}
